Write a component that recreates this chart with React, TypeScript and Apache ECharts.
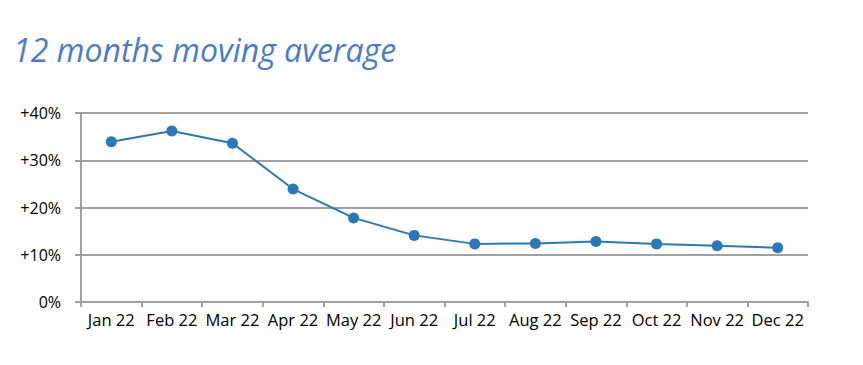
import React, { useEffect, useRef } from "react";
import * as echarts from "echarts";

const titleText = "12 months moving average";
const months = ["Jan 22", "Feb 22", "Mar 22", "Apr 22", "May 22", "Jun 22", "Jul 22", "Aug 22", "Sep 22", "Oct 22", "Nov 22", "Dec 22"];
const movingAvg = [33.9, 36.2, 33.6, 23.9, 17.8, 14.1, 12.3, 12.4, 12.8, 12.3, 11.9, 11.5];

export default function App() {
  const ref = useRef<HTMLDivElement>(null);
  useEffect(() => {
    if (!ref.current) return;
    const chart = echarts.init(ref.current, null, { renderer: "svg" });
    const font = "'Open Sans', Lato, sans-serif";
    chart.setOption({
      animation: false,
      backgroundColor: "#ffffff",
      title: {
        text: titleText,
        left: 0,
        top: 20,
        textStyle: { color: "#4a7dc9", fontStyle: "italic", fontWeight: "normal", fontSize: 32, fontFamily: font },
      },
      grid: { left: 73, right: 47, top: 105, bottom: 63 },
      xAxis: {
        type: "category",
        data: months,
        boundaryGap: true,
        axisLine: { lineStyle: { color: "#a0a0a0", width: 2 } },
        axisTick: { show: true, length: 5, lineStyle: { color: "#a0a0a0", width: 2 } },
        axisLabel: { color: "#000", fontSize: 16.5, fontFamily: font, margin: 9, interval: 0 },
      },
      yAxis: {
        type: "value",
        min: 0,
        max: 40,
        interval: 10,
        axisLine: { show: true, lineStyle: { color: "#a0a0a0", width: 2 } },
        axisTick: { show: true, length: 6, lineStyle: { color: "#a0a0a0", width: 2 } },
        splitLine: { lineStyle: { color: "#a0a0a0", width: 2 } },
        axisLabel: {
          color: "#000",
          fontSize: 16,
          fontFamily: font,
          margin: 20,
          formatter: (v: number) => (v === 0 ? "0%" : "+" + v + "%"),
        },
      },
      series: [
        {
          type: "line",
          data: movingAvg,
          symbol: "circle",
          symbolSize: 11,
          itemStyle: { color: "#2a78b8" },
          lineStyle: { color: "#2a78b8", width: 2 },
        },
      ],
    });
    return () => chart.dispose();
  }, []);
  return <div ref={ref} style={{ width: 847, height: 357 }} />;
}
